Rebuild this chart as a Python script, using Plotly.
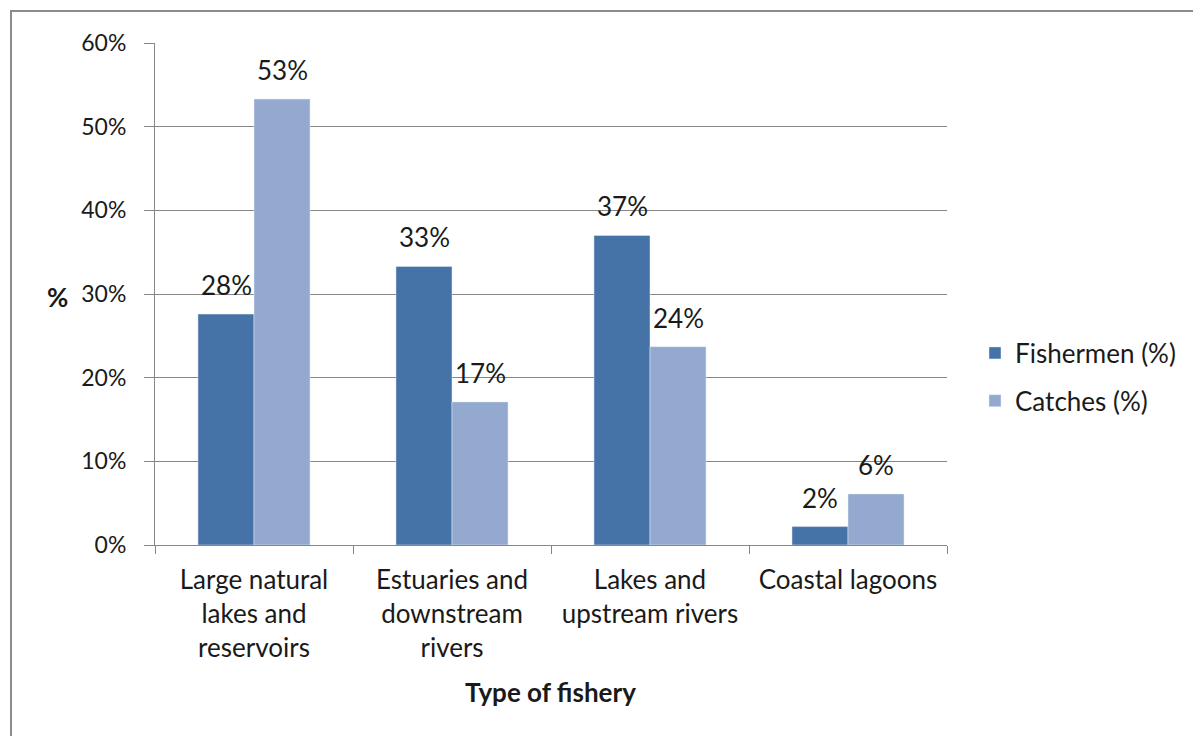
import plotly.graph_objects as go

categories = ["Large natural<br>lakes and<br>reservoirs", "Estuaries and<br>downstream<br>rivers",
              "Lakes and<br>upstream rivers", "Coastal lagoons"]
fishermen = [27.6, 33.3, 37.0, 2.2]
catches = [53.3, 17.1, 23.7, 6.1]
series_names = ["Fishermen (%)", "Catches (%)"]
y_ticks = [0, 10, 20, 30, 40, 50, 60]

FONT = "Lato"
FS = 26
TXT = "#1a1a1a"
GRID = "#868686"
W, H = 1193, 736
L, R, T, B = 155, 246, 43, 191
pw, ph = W - L - R, H - T - B


def px_x(p):
    return (p - L) / pw


def px_y(p):
    return (T + ph - p) / ph


fig = go.Figure()
fig.add_trace(go.Bar(x=categories, y=fishermen, name=series_names[0], marker_color="#4572A7",
                     legendgroup="a"))
fig.add_trace(go.Bar(x=categories, y=catches, name=series_names[1], marker_color="#93A9CF",
                     legendgroup="b"))

annotations = []
for vals, sh in [(fishermen, -28), (catches, 28)]:
    for c, v in zip(categories, vals):
        annotations.append(dict(x=c, y=v, xref="x", yref="y", text=f"{round(v):d}%",
                                showarrow=False, xshift=sh, yshift=29,
                                xanchor="center", yanchor="middle",
                                font=dict(family=FONT, size=FS, color=TXT)))

annotations.append(dict(x=px_x(57), y=px_y(297), xref="paper", yref="paper",
                        xanchor="center", yanchor="middle",
                        text="<b>%</b>", showarrow=False, font=dict(family=FONT, size=FS, color=TXT)))
annotations.append(dict(x=px_x(550), y=px_y(692), xref="paper", yref="paper",
                        xanchor="center", yanchor="middle",
                        text="<b>Type of fishery</b>", showarrow=False,
                        font=dict(family=FONT, size=FS, color=TXT)))

fig.add_shape(type="rect", xref="paper", yref="paper",
              x0=px_x(11), x1=px_x(1210), y0=px_y(11), y1=px_y(760),
              line=dict(color="#8c8c8c", width=2), fillcolor="rgba(0,0,0,0)", layer="below")

fig.update_layout(
    width=W, height=H,
    margin=dict(l=L, r=R, t=T, b=B),
    paper_bgcolor="white", plot_bgcolor="white",
    barmode="group", bargap=0.434, bargroupgap=0,
    font=dict(family=FONT, size=FS, color=TXT),
    annotations=annotations,
    legend=dict(x=px_x(975), y=px_y(377), xanchor="left", yanchor="middle",
                tracegroupgap=11, traceorder="grouped",
                font=dict(family=FONT, size=FS, color=TXT)),
    xaxis=dict(type="category", tickson="boundaries", ticks="outside", ticklen=8,
               tickcolor=GRID, showline=True, linecolor=GRID, linewidth=1,
               showgrid=False, ticklabelstandoff=12, automargin=False,
               tickfont=dict(family=FONT, size=FS, color=TXT)),
    yaxis=dict(range=[0, 60], tickvals=y_ticks, ticktext=[f"{t}%" for t in y_ticks],
               ticks="outside", ticklen=10, tickcolor=GRID, showline=True, linecolor=GRID,
               linewidth=1, showgrid=True, gridcolor=GRID, gridwidth=1, zeroline=False,
               ticklabelstandoff=13, automargin=False,
               tickfont=dict(family=FONT, size=23, color=TXT)),
)

fig.write_html("out.html")
